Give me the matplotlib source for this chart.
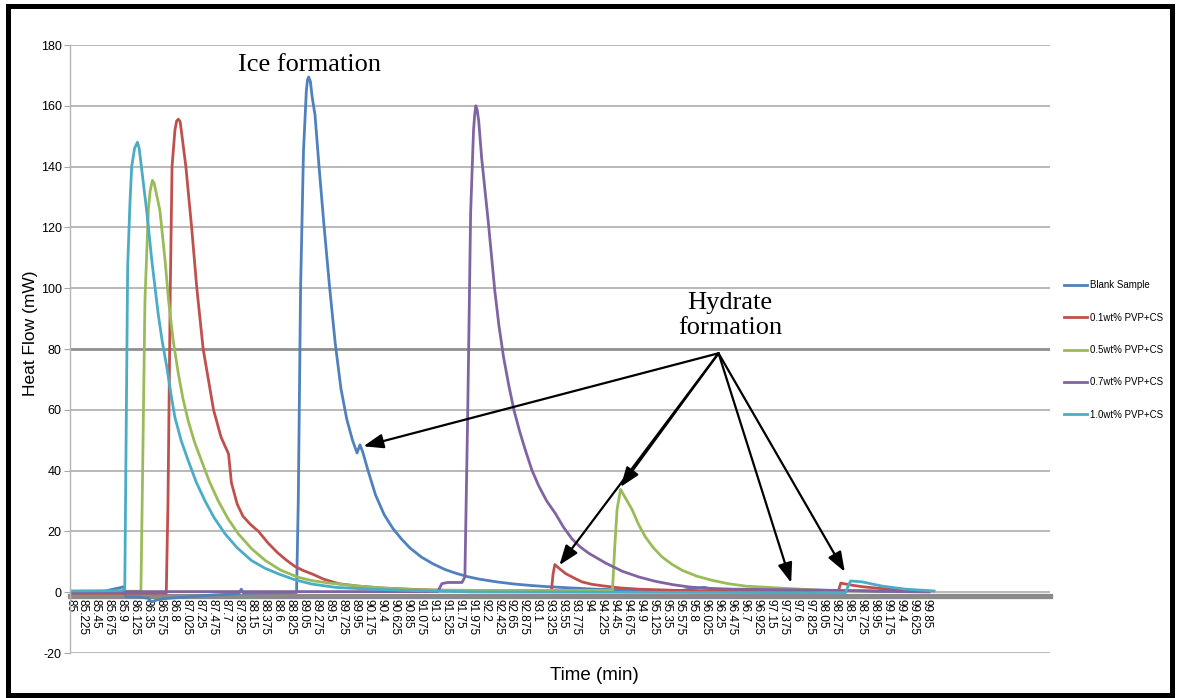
import matplotlib
matplotlib.use("Agg")
import matplotlib.pyplot as plt
import matplotlib.font_manager as fm
from matplotlib.patches import Rectangle

# ── values (time in min, heat flow in mW) ──

blank_t = [85.0, 85.6, 85.7, 85.85, 85.93, 85.97, 86.2, 86.36, 86.41, 86.5,
           86.65, 87.0, 87.5, 87.93, 87.97, 88.01, 88.5, 88.93, 88.96, 89.0,
           89.05, 89.1, 89.12, 89.14, 89.17, 89.2, 89.25, 89.32, 89.4, 89.5,
           89.6, 89.7, 89.8, 89.9, 89.98, 90.03, 90.08, 90.17, 90.3, 90.45,
           90.6, 90.75, 90.9, 91.1, 91.3, 91.5, 91.7, 91.9, 92.1, 92.4,
           92.7, 93.0, 93.3, 93.7, 94.1, 94.5, 95.0, 95.6, 95.8, 96.0,
           96.2, 96.6, 97.5, 98.4, 98.6, 99.0, 99.9]
blank_v = [0.2, 0.3, 0.8, 1.4, 1.8, -1.5, -1.6, -2.0, -3.2, -2.6,
           -2.1, -1.6, -0.9, -0.5, 1.0, -0.3, -0.2, -0.1, 30, 100,
           145, 165, 168.5, 169.5, 168, 163, 157, 140, 122, 101,
           82, 67, 57, 50, 45.8, 48.5, 46, 40, 32, 25.5,
           21, 17.5, 14.5, 11.5, 9.3, 7.5, 6.2, 5.1, 4.3, 3.4,
           2.7, 2.2, 1.8, 1.4, 1.0, 0.8, 0.6, 0.5, 1.2, 1.6,
           0.8, 0.5, 0.4, 0.4, 0.6, 0.4, 0.2]

pvp01_t = [85.0, 86.67, 86.7, 86.74, 86.77, 86.82, 86.85, 86.88, 86.91, 86.93,
           87.01, 87.11, 87.2, 87.31, 87.49, 87.62, 87.75, 87.8, 87.9, 88.0,
           88.13, 88.27, 88.43, 88.6, 88.75, 88.9, 89.05, 89.2, 89.4, 89.66,
           90.0, 90.4, 91.0, 91.5, 92.0, 93.35, 93.38, 93.41, 93.5, 93.6,
           93.75, 93.88, 94.05, 94.28, 94.55, 94.86, 95.2, 95.5, 96.2, 97.5,
           98.33, 98.37, 98.45, 98.6, 98.75, 98.91, 99.2, 99.5, 99.9]
pvp01_v = [-0.3, -0.3, 30, 100, 140, 152, 155, 155.6, 154.8, 152,
           140, 120, 100, 80, 60, 51, 45.5, 36, 29, 25,
           22.3, 20, 16.3, 13, 10.6, 8.5, 7.1, 6.0, 4.3, 2.8,
           2.0, 1.4, 0.9, 0.6, 0.3, 0.3, 6.0, 9.1, 7.6, 6.1,
           4.6, 3.4, 2.6, 2.0, 1.4, 1.0, 0.8, 0.6, 0.4, 0.3,
           0.4, 3.0, 2.7, 2.2, 1.8, 1.5, 1.0, 0.5, 0.2]

pvp05_t = [85.0, 86.23, 86.26, 86.3, 86.36, 86.39, 86.43, 86.46, 86.5, 86.56,
           86.65, 86.71, 86.79, 86.88, 86.96, 87.05, 87.16, 87.28, 87.42, 87.57,
           87.74, 87.92, 88.15, 88.39, 88.65, 88.96, 89.2, 89.5, 90.0, 90.5,
           91.0, 92.0, 94.41, 94.45, 94.49, 94.55, 94.62, 94.75, 94.86, 94.98,
           95.12, 95.27, 95.44, 95.62, 95.87, 96.14, 96.42, 96.72, 97.47, 98.1,
           98.6, 99.0]
pvp05_v = [0.3, 0.3, 40, 96, 126, 132, 135.5, 134.5, 131, 125.5,
           109, 96, 82.7, 71.8, 63.6, 56.4, 49.4, 43.3, 36.3, 30.1,
           24.2, 19.2, 14.3, 10.4, 7.3, 4.9, 3.8, 3.0, 2.0, 1.3,
           0.8, 0.6, 0.6, 15, 27.2, 33.8, 31.5, 27.2, 22.4, 18.2,
           14.6, 11.6, 9.2, 7.2, 5.3, 3.9, 2.8, 2.0, 1.2, 0.6,
           0.5, 0.3]

pvp07_t = [85.0, 91.38, 91.45, 91.55, 91.8, 91.85, 91.9, 91.95, 92.0, 92.02,
           92.04, 92.065, 92.09, 92.14, 92.26, 92.37, 92.44, 92.52, 92.61, 92.7,
           92.8, 92.9, 93.01, 93.13, 93.27, 93.42, 93.56, 93.71, 93.85, 94.0,
           94.29, 94.58, 94.87, 95.15, 95.45, 95.75, 96.02, 96.5, 97.0, 97.5,
           98.0, 98.5, 99.0, 99.9]
pvp07_v = [0.2, 0.2, 2.8, 3.2, 3.2, 5, 60, 125, 152, 157,
           160, 158.5, 155, 143, 121, 99, 87.8, 77.4, 68.2, 60,
           52.9, 46.7, 40.3, 35, 30.0, 25.9, 21.4, 17.5, 14.9, 12.8,
           9.6, 6.9, 5.0, 3.6, 2.5, 1.7, 1.3, 1.0, 0.9, 0.8,
           0.7, 0.5, 0.3, 0.1]

pvp10_t = [85.0, 85.9, 85.95, 86.0, 86.04, 86.07, 86.12, 86.17, 86.2, 86.24,
           86.33, 86.42, 86.53, 86.6, 86.68, 86.75, 86.82, 86.93, 87.05, 87.19,
           87.34, 87.5, 87.69, 87.9, 88.15, 88.38, 88.62, 88.9, 89.19, 89.6,
           90.2, 91.0, 92.0, 98.45, 98.5, 98.54, 98.74, 99.09, 99.49, 99.99]
pvp10_v = [0.4, 0.5, 1.0, 107, 128, 140, 146, 148, 146, 139.7,
           125.5, 109, 91.5, 82.5, 74, 65.3, 57.5, 49.8, 43.3, 36.2,
           30.1, 24.5, 19.2, 14.6, 10.4, 7.9, 6.0, 4.1, 2.7, 1.6,
           1.0, 0.5, 0.1, -0.2, 2.0, 3.7, 3.4, 2.0, 1.0, 0.4]

series_names = ["Blank Sample", "0.1wt% PVP+CS", "0.5wt% PVP+CS",
                "0.7wt% PVP+CS", "1.0wt% PVP+CS"]
series_colors = ["#4F81BD", "#C0504D", "#9BBB59", "#8064A2", "#4BACC6"]

time_labels = ["85", "85.225", "85.45", "85.675", "85.9", "86.125", "86.35",
               "86.575", "86.8", "87.025", "87.25", "87.475", "87.7", "87.925",
               "88.15", "88.375", "88.6", "88.825", "89.05", "89.275", "89.5",
               "89.725", "89.95", "90.175", "90.4", "90.625", "90.85", "91.075",
               "91.3", "91.525", "91.75", "91.975", "92.2", "92.425", "92.65",
               "92.875", "93.1", "93.325", "93.55", "93.775", "94", "94.225",
               "94.45", "94.675", "94.9", "95.125", "95.35", "95.575", "95.8",
               "96.025", "96.25", "96.475", "96.7", "96.925", "97.15", "97.375",
               "97.6", "97.825", "98.05", "98.275", "98.5", "98.725", "98.95",
               "99.175", "99.4", "99.625", "99.85"]
heat_ticks = [-20, 0, 20, 40, 60, 80, 100, 120, 140, 160, 180]

# annotation anchors (data coords)
ice_label_at = (89.16, 173.4)
hydrate_label_at = (96.45, 91.1)
arrow_from = (96.25, 78.6)
arrow_targets = [(90.09, 48.0), (94.55, 34.6), (93.49, 8.9), (97.51, 3.1), (98.44, 6.7)]

# ── fonts ──
_names = {f.name for f in fm.fontManager.ttflist}
NARROW = "Liberation Sans Narrow" if "Liberation Sans Narrow" in _names else "Liberation Sans"
SANS = "Liberation Sans"
SERIF = "Liberation Serif"

W, H = 1178, 698
fig = plt.figure(figsize=(W / 100, H / 100), dpi=100)
fig.patch.set_facecolor("white")
ax = fig.add_axes([70 / W, 1 - 653 / H, 980 / W, 608 / H])

data = [(blank_t, blank_v), (pvp01_t, pvp01_v), (pvp05_t, pvp05_v),
        (pvp07_t, pvp07_v), (pvp10_t, pvp10_v)]
for (t, v), name, color in zip(data, series_names, series_colors):
    ax.plot(t, v, color=color, lw=2.0, label=name, zorder=2,
            solid_joinstyle="round")

ax.set_xlim(85, 102)
ax.set_ylim(-20, 180)

# gridlines (the one at 80 renders heavier in the original)
for y in heat_ticks:
    ax.axhline(y, color="#8f8f8f" if y == 80 else "#a6a6a6",
               lw=2.0 if y == 80 else 1.1, zorder=0.5)

for s in ("top", "right"):
    ax.spines[s].set_visible(False)
ax.spines["left"].set_color("#b4b4b4")
ax.spines["left"].set_linewidth(1.0)
ax.spines["bottom"].set_position(("data", -1.1))
ax.spines["bottom"].set_color("#8a8a8a")
ax.spines["bottom"].set_linewidth(3.8)
ax.spines["bottom"].set_zorder(1.5)

ax.set_yticks(heat_ticks)
ax.set_yticklabels([str(v) for v in heat_ticks], fontsize=9, family=NARROW)
ax.tick_params(axis="y", length=4, color="#a6a6a6", pad=2)

ax.set_xticks([float(s) for s in time_labels])
ax.set_xticklabels(time_labels, rotation=270, fontsize=8.5, family=NARROW)
ax.tick_params(axis="x", length=0, pad=2.5)

fig.text(31 / W, 1 - 333 / H, "Heat Flow (mW)", rotation=90, ha="center",
         va="center", fontsize=12.5, family=SANS)
fig.text(594 / W, 1 - 675 / H, "Time (min)", ha="center", va="center",
         fontsize=13.5, family=SANS)

# annotations
ax.text(*ice_label_at, "Ice formation", ha="center", va="center",
        fontsize=19, family=SERIF)
ax.text(*hydrate_label_at, "Hydrate\nformation", ha="center", va="center",
        fontsize=19, family=SERIF, linespacing=1.2)
for tip in arrow_targets:
    ax.annotate("", xy=tip, xytext=arrow_from,
                arrowprops=dict(arrowstyle="-|>,head_length=0.6,head_width=0.22",
                                color="black", lw=1.6, mutation_scale=20,
                                shrinkA=0, shrinkB=0),
                zorder=5)

ax.legend(loc="center left", bbox_to_anchor=(1064 / W, 1 - 350 / H),
          bbox_transform=fig.transFigure, frameon=False,
          prop={"family": NARROW, "size": 7}, handlelength=2.4,
          handletextpad=0.3, labelspacing=2.3, borderpad=0, borderaxespad=0)

# black frame round the whole picture
fig.add_artist(Rectangle((8 / W, 3 / H), (1172 - 8) / W, (692 - 3) / H,
                         transform=fig.transFigure, fill=False,
                         ec="black", lw=3.6))

fig.savefig("out.png", dpi=100)
